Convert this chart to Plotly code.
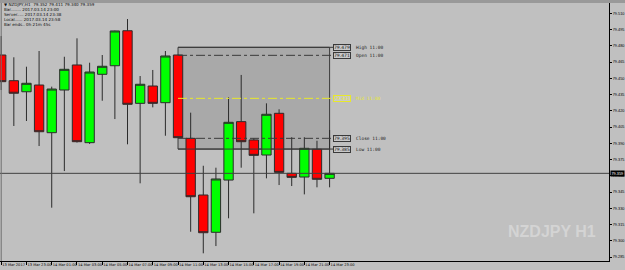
import plotly.graph_objects as go

# ---------------- data ----------------
times = ["13 Mar 21:00", "13 Mar 22:00", "13 Mar 23:00", "14 Mar 00:00", "14 Mar 01:00",
         "14 Mar 02:00", "14 Mar 03:00", "14 Mar 04:00", "14 Mar 05:00", "14 Mar 06:00",
         "14 Mar 07:00", "14 Mar 08:00", "14 Mar 09:00", "14 Mar 10:00", "14 Mar 11:00",
         "14 Mar 12:00", "14 Mar 13:00", "14 Mar 14:00", "14 Mar 15:00", "14 Mar 16:00",
         "14 Mar 17:00", "14 Mar 18:00", "14 Mar 19:00", "14 Mar 20:00", "14 Mar 21:00",
         "14 Mar 22:00", "14 Mar 23:00"]
opens = [79.4715, 79.4478, 79.4376, 79.4438, 79.3998, 79.4392, 79.4623, 79.3906, 79.4537,
         79.4616, 79.4939, 79.4269, 79.4429, 79.4275, 79.4715, 79.3946, 79.3423, 79.3079,
         79.3561, 79.4100, 79.3931, 79.3792, 79.4177, 79.3623, 79.3589, 79.3845, 79.3577]
highs = [79.4890, 79.4694, 79.4607, 79.4752, 79.4423, 79.4699, 79.4869, 79.4644, 79.4715,
         79.4940, 79.5047, 79.4521, 79.4577, 79.4752, 79.4716, 79.4183, 79.3693, 79.3675,
         79.4325, 79.4531, 79.3946, 79.4269, 79.4214, 79.3956, 79.3956, 79.3924, 79.4023]
lows = [79.4392, 79.4060, 79.4106, 79.3875, 79.3306, 79.3644, 79.3907, 79.3894, 79.4293,
        79.4124, 79.3891, 79.3531, 79.4232, 79.3970, 79.3951, 79.3084, 79.2885, 79.2952,
        79.3208, 79.3675, 79.3254, 79.3577, 79.3515, 79.3506, 79.3429, 79.3494, 79.3494]
closes = [79.4469, 79.4362, 79.4454, 79.4007, 79.4401, 79.4583, 79.3915, 79.4558, 79.4611,
          79.4937, 79.4260, 79.4445, 79.4269, 79.4706, 79.3952, 79.3407, 79.3075, 79.3571,
          79.4094, 79.3915, 79.3789, 79.4168, 79.3632, 79.3586, 79.3854, 79.3568, 79.3623]

x_tick_idx = [0, 2, 4, 6, 8, 10, 12, 14, 16, 18, 20, 22, 24, 26]
x_tick_text = ["13 Mar 2017", "13 Mar 23:00", "14 Mar 01:00", "14 Mar 03:00", "14 Mar 05:00",
               "14 Mar 07:00", "14 Mar 09:00", "14 Mar 11:00", "14 Mar 13:00", "14 Mar 15:00",
               "14 Mar 17:00", "14 Mar 19:00", "14 Mar 21:00", "14 Mar 23:00"]
y_ticks = [79.285, 79.300, 79.315, 79.330, 79.345, 79.360, 79.375, 79.390, 79.405,
           79.420, 79.435, 79.450, 79.465, 79.480, 79.495, 79.510]

# session box (11:00) levels
box_start, box_end = 14, 26
lvl_names = ["High 11:00", "Open 11:00", "Mid 11:00", "Close 11:00", "Low 11:00"]
lvl_values = [79.4786, 79.4712, 79.4315, 79.3946, 79.3847]

header_lines = ["\u25bc NZDJPY,H1  79.352 79.411 79.340 79.359",
                "Bar........ 2017.03.14 23:00",
                "Server..... 2017.03.14 23:38",
                "Local...... 2017.03.14 23:58",
                "Bar ends.. 0h 21m 45s"]
current_label = "79.359"

# ---------------- figure ----------------
idx = list(range(len(times)))
BG = "#c0c0c0"
fig = go.Figure()
fig.add_trace(go.Candlestick(
    x=idx, open=opens, high=highs, low=lows, close=closes,
    increasing=dict(fillcolor="#00ff00", line=dict(color="#2b2b2b", width=1)),
    decreasing=dict(fillcolor="#ff0000", line=dict(color="#2b2b2b", width=1)),
    hoverinfo="skip", showlegend=False))

shapes = []
shapes.append(dict(type="rect", xref="x", yref="y", x0=box_start, x1=box_end,
                   y0=lvl_values[4], y1=lvl_values[0], fillcolor="#a9a9a9",
                   line=dict(color="#3a3a3a", width=1), layer="below"))
styles = [("#3a3a3a", "solid"), ("#3a3a3a", "dashdot"), ("#e8e82a", "dashdot"),
          ("#3a3a3a", "dashdot"), ("#3a3a3a", "solid")]
lbl_x = box_end + 0.27
for v, (c, d) in zip(lvl_values, styles):
    shapes.append(dict(type="line", xref="x", yref="y", x0=box_start, x1=lbl_x,
                       y0=v, y1=v, line=dict(color=c, width=1, dash=d)))
shapes.append(dict(type="line", xref="paper", yref="y", x0=0, x1=1,
                   y0=closes[-1], y1=closes[-1], line=dict(color="#404040", width=1)))
shapes.append(dict(type="rect", xref="paper", yref="paper", x0=0, x1=1.03, y0=1, y1=1.02,
                   fillcolor="#999999", line=dict(width=0)))
shapes.append(dict(type="line", xref="paper", yref="paper", x0=0.002, x1=0.002, y0=0, y1=1,
                   line=dict(color="#707070", width=1)))

annotations = []
for name, v, (c, d) in zip(lvl_names, lvl_values, styles):
    tc = c if c != "#3a3a3a" else "#202020"
    annotations.append(dict(x=lbl_x, y=v, xref="x", yref="y", text=f"{v:.3f}",
                            showarrow=False, xanchor="left", yanchor="middle",
                            font=dict(size=4.5, color=tc, family="DejaVu Sans"),
                            bgcolor="#c8c8c8", bordercolor=c, borderwidth=1, borderpad=0))
    annotations.append(dict(x=lbl_x + 1.65, y=v, xref="x", yref="y", text=name,
                            showarrow=False, xanchor="left", yanchor="middle",
                            font=dict(size=4.5, color=tc, family="DejaVu Sans Mono")))
for i, t in enumerate(header_lines):
    yp = [4, 9.7, 14.3, 19, 24.3][i]
    annotations.append(dict(x=0.004, y=(261 - yp) / 258, xref="paper", yref="paper", text=t,
                            showarrow=False, xanchor="left", yanchor="middle",
                            font=dict(size=4.1, color="#101010", family="DejaVu Sans")))
annotations.append(dict(x=1.0, y=closes[-1], xref="paper", yref="y", text=current_label,
                        showarrow=False, xanchor="left", yanchor="middle", xshift=1,
                        font=dict(size=3.8, color="white", family="Liberation Sans"),
                        bgcolor="black", borderpad=0.5))
annotations.append(dict(x=598 / 609, y=(261 - 231) / 258, xref="paper", yref="paper",
                        text="<b>NZDJPY H1</b>", showarrow=False, xanchor="right",
                        yanchor="middle",
                        font=dict(size=16, color="#d4d4d4", family="Liberation Sans")))

fig.update_layout(
    width=625, height=270,
    margin=dict(l=0, r=16, t=3, b=9),
    paper_bgcolor=BG, plot_bgcolor=BG,
    boxgap=0.26, boxgroupgap=0,
    shapes=shapes, annotations=annotations,
    showlegend=False,
    xaxis=dict(range=[-0.095, 48.12], rangeslider=dict(visible=False), automargin=False,
               tickmode="array", tickvals=x_tick_idx, ticktext=x_tick_text, tickangle=0,
               ticks="outside", ticklen=3, tickcolor="#000", tickwidth=1,
               ticklabelposition="outside right",
               showline=True, linecolor="#000", linewidth=1, showgrid=False, zeroline=False,
               tickfont=dict(size=3.6, color="#000", family="DejaVu Sans")),
    yaxis=dict(range=[79.2814, 79.5195], side="right", automargin=False,
               tickmode="array", tickvals=y_ticks, ticktext=[f"{v:.3f}" for v in y_ticks],
               ticks="outside", ticklen=2, tickcolor="#000", tickwidth=1,
               showline=True, linecolor="#000", linewidth=1, showgrid=False, zeroline=False,
               tickfont=dict(size=3.8, color="#000", family="Liberation Sans")),
)

fig.write_html("out.html")
